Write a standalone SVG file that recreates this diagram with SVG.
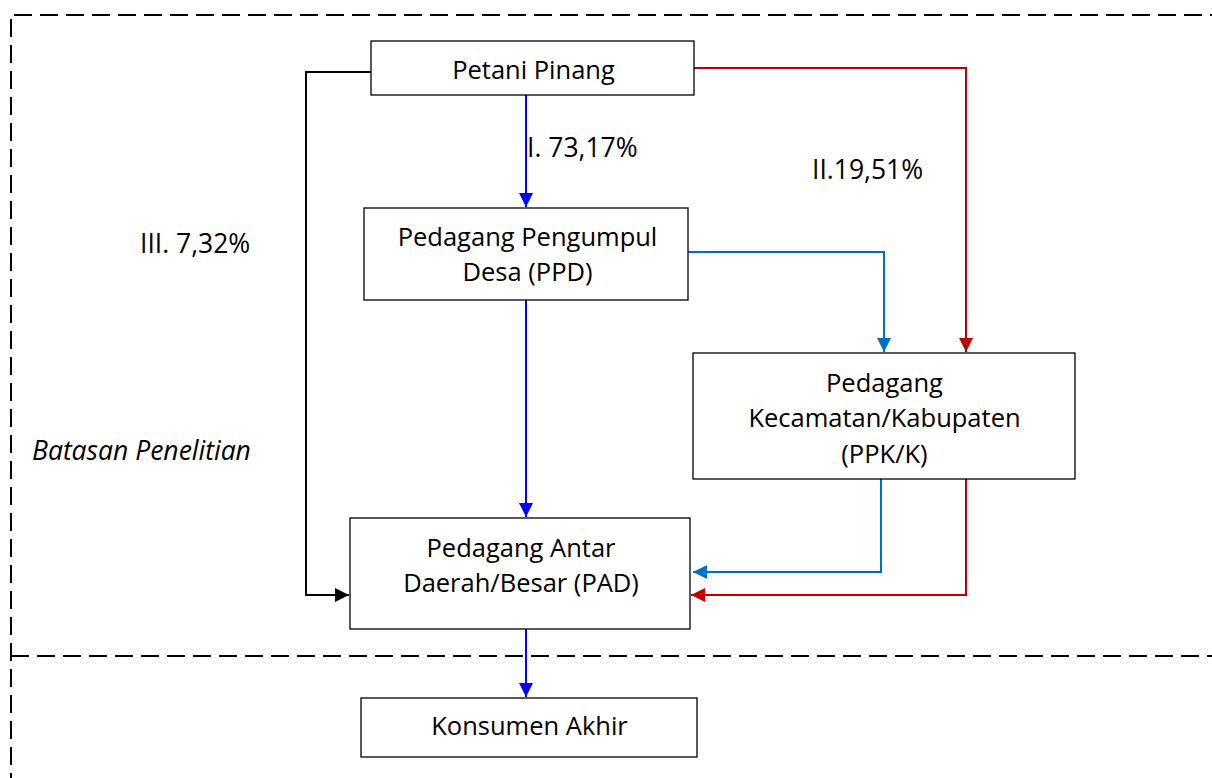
<svg xmlns="http://www.w3.org/2000/svg" width="1212" height="778" viewBox="0 0 1212 778">
<style>
.box{fill:#fff;stroke:#000;stroke-width:1.3}
.t{font-family:"Open Sans",Lato,sans-serif;font-size:25.5px;fill:#000;text-anchor:middle}
.lbl{font-family:"Open Sans",Lato,sans-serif;font-size:26.5px;fill:#000}
.dash{fill:none;stroke:#000;stroke-width:2;stroke-dasharray:18 8}
.c{fill:none;stroke-width:2}
</style>
<defs>
<marker id="ab" viewBox="0 0 10 10" refX="10" refY="5" markerWidth="7" markerHeight="7" orient="auto" markerUnits="strokeWidth"><path d="M0,0L10,5L0,10z" fill="#000"/></marker>
<marker id="ablue" viewBox="0 0 10 10" refX="10" refY="5" markerWidth="7" markerHeight="7" orient="auto" markerUnits="strokeWidth"><path d="M0,0L10,5L0,10z" fill="#0000FF"/></marker>
<marker id="alb" viewBox="0 0 10 10" refX="10" refY="5" markerWidth="7" markerHeight="7" orient="auto" markerUnits="strokeWidth"><path d="M0,0L10,5L0,10z" fill="#0070C0"/></marker>
<marker id="ared" viewBox="0 0 10 10" refX="10" refY="5" markerWidth="7" markerHeight="7" orient="auto" markerUnits="strokeWidth"><path d="M0,0L10,5L0,10z" fill="#C00000"/></marker>
</defs>
<g id="boundary">
<path class="dash" d="M14,15H1212"/>
<path class="dash" d="M11,19V778"/>
<path class="dash" d="M11,656H1212"/>
</g>
<g id="connectors">
<path class="c" stroke="#000" d="M371,72H306V595H349" marker-end="url(#ab)"/>
<path class="c" stroke="#0000FF" d="M526,95V207" marker-end="url(#ablue)"/>
<path class="c" stroke="#0000FF" d="M526,300V517" marker-end="url(#ablue)"/>
<path class="c" stroke="#0000FF" d="M526,629V697" marker-end="url(#ablue)"/>
<path class="c" stroke="#0070C0" d="M688,252H884V352" marker-end="url(#alb)"/>
<path class="c" stroke="#C00000" d="M694,68H966V352" marker-end="url(#ared)"/>
<path class="c" stroke="#0070C0" d="M881,479V572H693" marker-end="url(#alb)"/>
<path class="c" stroke="#C00000" d="M966,479V595H691" marker-end="url(#ared)"/>
</g>
<g id="labels">
<text class="lbl" x="527" y="157">I. 73,17%</text>
<text class="lbl" x="812" y="179">II.19,51%</text>
<text class="lbl" x="140" y="253">III. 7,32%</text>
<text class="lbl" x="32" y="460" font-style="italic">Batasan Penelitian</text>
</g>
<g id="petani"><rect class="box" x="371" y="41" width="323" height="54"/><text class="t" x="533.5" y="79">Petani Pinang</text></g>
<g id="ppd"><rect class="box" x="364" y="208" width="324" height="92"/><text class="t" x="527.5" y="246">Pedagang Pengumpul</text><text class="t" x="527.5" y="281">Desa (PPD)</text></g>
<g id="ppk"><rect class="box" x="693" y="353" width="382" height="126"/><text class="t" x="884.5" y="392">Pedagang</text><text class="t" x="884.5" y="427">Kecamatan/Kabupaten</text><text class="t" x="884.5" y="463">(PPK/K)</text></g>
<g id="pad"><rect class="box" x="350" y="518" width="340" height="111"/><text class="t" x="521" y="557">Pedagang Antar</text><text class="t" x="521" y="592">Daerah/Besar (PAD)</text></g>
<g id="konsumen"><rect class="box" x="361" y="698" width="336" height="59"/><text class="t" x="529.5" y="735">Konsumen Akhir</text></g>
</svg>
